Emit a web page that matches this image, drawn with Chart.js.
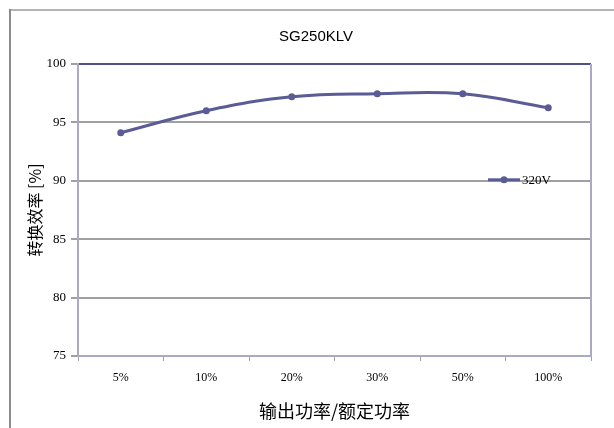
<!DOCTYPE html>
<html>
<head>
<meta charset="utf-8">
<script src="https://cdn.jsdelivr.net/npm/chart.js@4/dist/chart.umd.min.js"></script>
<style>
  html, body { margin: 0; padding: 0; background: #fff; }
  canvas { display: block; }
</style>
</head>
<body>
<canvas id="chart" width="614" height="428"></canvas>
<script>
// chart data
const loadLabels = ['5%', '10%', '20%', '30%', '50%', '100%'];
const efficiency320V = [94.12, 96.0, 97.2, 97.46, 97.45, 96.26];
const seriesName = '320V';
const chartTitle = 'SG250KLV';
const xTitle = '输出功率/额定功率';
const yTitle = '转换效率 [%]';

const lineColor = '#5b5b96';
const serif = "'Liberation Serif', 'DejaVu Serif', serif";

// outer frame, right plot border and the in-plot legend
const decorations = {
  id: 'decorations',
  beforeDraw(chart) {
    const ctx = chart.ctx;
    ctx.save();
    ctx.fillStyle = '#fff';
    ctx.fillRect(0, 0, chart.width, chart.height);
    ctx.fillStyle = '#b4b4b4';
    ctx.fillRect(9, 9, chart.width - 9, 2);
    ctx.fillStyle = '#8c8c8c';
    ctx.fillRect(9, 9, 2, chart.height - 9);
    ctx.restore();
  },
  afterDraw(chart) {
    const ctx = chart.ctx;
    const area = chart.chartArea;
    ctx.save();
    // right border of plot area
    ctx.strokeStyle = '#aaaac8';
    ctx.lineWidth = 2;
    ctx.beginPath();
    ctx.moveTo(area.right, area.top);
    ctx.lineTo(area.right, area.bottom);
    ctx.stroke();

    // legend
    const ds = chart.data.datasets[0];
    const ly = chart.scales.y.getPixelForValue(90) - 1;
    const lx = area.right - 103;
    ctx.strokeStyle = lineColor;
    ctx.lineWidth = 3;
    ctx.beginPath();
    ctx.moveTo(lx, ly);
    ctx.lineTo(lx + 32, ly);
    ctx.stroke();
    ctx.fillStyle = lineColor;
    ctx.beginPath();
    ctx.arc(lx + 16, ly, 3.5, 0, Math.PI * 2);
    ctx.fill();
    ctx.fillStyle = '#000';
    ctx.font = '13px ' + serif;
    ctx.textAlign = 'left';
    ctx.textBaseline = 'middle';
    ctx.fillText(ds.label, lx + 34, ly + 1);
    ctx.restore();
  }
};

new Chart(document.getElementById('chart'), {
  type: 'line',
  data: {
    labels: loadLabels,
    datasets: [{
      label: seriesName,
      data: efficiency320V,
      borderColor: lineColor,
      backgroundColor: lineColor,
      borderWidth: 3,
      tension: 0.4,
      pointRadius: 3.5,
      pointBackgroundColor: lineColor,
      pointBorderColor: lineColor,
      pointBorderWidth: 0
    }]
  },
  options: {
    responsive: false,
    animation: false,
    devicePixelRatio: 1,
    layout: { padding: { left: 41, right: 23, top: 0, bottom: 0 } },
    plugins: {
      legend: { display: false },
      tooltip: { enabled: false },
      title: {
        display: true,
        text: chartTitle,
        color: '#000',
        font: { family: "'Liberation Sans', Arial, sans-serif", size: 15, weight: 'normal' },
        padding: { top: 28, bottom: 18 }
      }
    },
    scales: {
      x: {
        offset: true,
        grid: {
          offset: true,
          drawOnChartArea: false,
          drawTicks: true,
          tickLength: 5,
          tickColor: '#a0a0a0'
        },
        border: { color: '#aaaac8', width: 2 },
        ticks: {
          color: '#000',
          font: { family: serif, size: 12 },
          padding: 10,
          maxRotation: 0
        },
        title: {
          display: true,
          text: xTitle,
          color: '#000',
          font: { family: "'Noto Sans CJK SC', sans-serif", size: 18 },
          padding: { top: 0, bottom: 6 }
        },
        afterFit(scale) { scale.height = 72; }
      },
      y: {
        min: 75,
        max: 100,
        ticks: {
          stepSize: 5,
          color: '#000',
          font: { family: serif, size: 13 },
          padding: 5
        },
        grid: {
          color: ctx => ctx.tick && ctx.tick.value === 100 ? '#50508c' : '#a0a0a0',
          lineWidth: 2,
          tickLength: 7,
          tickColor: '#a0a0a0'
        },
        border: { color: '#aaaac8', width: 2 },
        title: {
          display: true,
          text: yTitle,
          color: '#000',
          font: { family: "'Noto Sans CJK SC', sans-serif", size: 16 },
          padding: { top: -16, bottom: 0 }
        },
        afterFit(scale) { scale.width = 37; }
      }
    }
  },
  plugins: [decorations]
});
</script>
</body>
</html>
